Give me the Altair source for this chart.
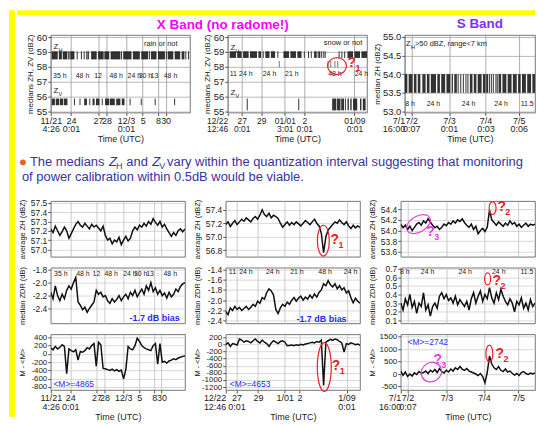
import altair as alt
import numpy as np
import pandas as pd

FONT = "Liberation Sans"
RED = "#e8202a"
MAG = "#e040e0"
BLUE = "#1a2cff"
TXT = "#35359b"
YEL = "#ffff00"

# ---------------- time axes (normalised position 0..100 along each column) ----------------
col1_ticks = [0, 14.5, 34, 40, 54, 66, 77, 82.5]
col1_top_labels = [["11/21", "4:26"], ["24", "0:01"], ["27"], ["28"], ["12/3", "0:01"], ["5"], ["8"], ["30"]]
col1_bot_labels = [["11/21", "4:26"], ["24", "0:01"], ["27"], ["28"], ["12/3"], ["5"], ["8"], ["30"]]
col2_top_ticks = [0, 10, 24, 41, 55, 91]
col2_ticks = [0, 8, 24, 44, 55, 90]
col2_top_labels = [["12/22", "12:46"], ["27", "0:01"], ["29"], ["01/01", "3:01"], ["2", "0:01"], ["01/09", "0:01"]]
col2_bot_labels = [["12/22", "12:46"], ["27", "0:01"], ["29"], ["1/01"], ["2"], ["1/09", "0:01"]]
col3_ticks = [0, 5, 34, 62, 87.5]
col3_top_labels = [["7/1", "16:00"], ["7/2", "0:07"], ["7/3", "0:01"], ["7/4", "0:03"], ["7/5", "0:06"]]
col3_bot_labels = [["7/1", "16:00"], ["7/2", "0:07"], ["7/3"], ["7/4"], ["7/5"]]

# ---------------- top row: medians Z_H / Z_V (bar-code like occurrences) ----------------
A_zh_band = (58.5, 59.05)
A_zv_band = (55.4, 55.85)
A_zh_blocks = [(0.7, 5), (5.8, 8), (8.6, 11.7), (14, 17), (25.5, 26.5), (29, 33), (34, 38), (38.5, 42),
               (43, 50), (52, 58), (59, 64), (65, 70), (72, 76), (77, 82), (84, 88), (89, 93), (94, 96)]
A_zh_ticks = [12.5, 13.2, 19, 22, 24, 27.2, 50.8, 71, 83, 97, 99]
A_zv_blocks = [(0.7, 3), (3.6, 6), (6.5, 9), (9.5, 12), (24, 26), (30, 31.5), (32.5, 35), (39, 42),
               (42.5, 46), (47, 50), (51, 53)]
A_zv_ticks = [17, 21, 28, 37, 57, 65, 75, 89]

B_zh_band = (58.6, 59.05)
B_zh_low_band = (57.95, 58.4)
B_zv_band = (55.05, 55.85)
B_zh_blocks = [(1.4, 6), (6.8, 10), (11, 15), (16, 21), (22, 24), (27, 30), (31, 34), (40, 44), (45, 49),
               (50, 53), (62, 63.5), (65, 66.5), (86, 90), (91, 95), (96, 100)]
B_zh_ticks = [25.5, 36, 55, 58, 60, 64, 67.5, 69, 70, 80, 82, 84]
B_zh_low_ticks = [37, 72, 74, 77, 79]
B_zv_blocks = [(75, 78), (78.5, 81), (81.5, 83.5), (86, 87), (88, 89), (90, 93), (95, 96), (97, 99)]
B_zv_ticks = [14, 51, 84.5]

C_band = (53.5, 54.0)
C_blocks = [(0, 2), (3, 6), (7, 9), (10, 12), (13.5, 16), (17, 19), (20, 24), (25, 27), (28, 31), (32, 35),
            (36, 37), (38, 40), (50, 52), (53, 55), (56, 59), (60, 62), (62.5, 64), (72, 74), (75, 78),
            (79, 82), (83, 86), (87, 89), (90, 93), (94, 97), (98, 100)]
C_ticks = [41, 43, 45, 47, 48.5, 65, 66.5, 68, 70, 71]

A_dur = [("35 h", 6.5), ("48 h", 22.8), ("12", 34), ("48 h", 47), ("24 h", 60), ("30 h", 68), ("13", 74.5), ("48 h", 86)]
B_dur = [("11", 4), ("24 h", 13), ("24 h", 30), ("21 h", 46), ("48 h", 77), ("24 h", 96)]
C_dur = [("8 h", 4), ("24 h", 22), ("24 h", 49), ("24 h", 74), ("11.5", 94)]

# ---------------- bottom rows: time series ----------------
r1c1 = [57.22, 57.18, 57.25, 57.20, 57.15, 57.19, 57.24, 57.20, 57.12, 57.17, 57.22, 57.27, 57.30, 57.26,
        57.24, 57.28, 57.25, 57.22, 57.27, 57.24, 57.26, 57.23, 57.20, 57.25, 57.15, 57.10, 57.12, 57.06,
        57.10, 57.08, 57.13, 57.05, 57.10, 57.14, 57.09, 57.12, 57.20, 57.24, 57.21, 57.26, 57.24, 57.28,
        57.25, 57.30, 57.27, 57.33, 57.29, 57.26, 57.30, 57.24, 57.27, 57.22, 57.18, 57.14, 57.18, 57.15,
        57.20, 57.22, 57.19, 57.22]
r2c1 = [-2.15, -2.25, -2.05, -2.20, -2.28, -2.18, -2.25, -2.12, -2.05, -2.10, -2.00, -1.92, -2.30, -2.35,
        -2.42, -2.38, -2.46, -2.40, -2.35, -2.30, -2.12, -2.18, -2.15, -2.22, -2.20, -2.28, -2.32, -2.25,
        -2.30, -2.26, -2.20, -2.28, -2.22, -2.18, -2.25, -2.15, -2.20, -2.12, -2.22, -2.16, -2.10, -2.18,
        -2.05, -2.12, -2.00, -2.14, -2.08, -2.18, -2.12, -2.20, -2.16, -2.24, -2.15, -2.22, -2.18, -2.10,
        -2.14, -2.06, -2.02, -2.00]
r3c1 = [150, 100, 180, 120, 160, 220, 180, -480, 120, 80, 50, 100, -150, 60, 40, 80, 150, 120, 200, 250,
        -300, 280, 220, -350, -360, -380, -400, -370, -410, -380, -420, -390, -600, -380, 180, 120, 100, 200,
        380, 300, 200, 150, 120, 100, 80, 200, 250, -250, 250, -200, -180, -220, -170, -150, -120, -140,
        -100, -80, -60, -50]
r1c2 = [57.18, 57.22, 57.15, 57.20, 57.24, 57.18, 57.22, 57.26, 57.23, 57.28, 57.25, 57.22, 57.27, 57.30,
        57.26, 57.32, 57.40, 57.33, 57.30, 57.35, 57.28, 57.32, 57.30, 57.27, 57.20, 57.14, 57.18, 57.22,
        57.17, 57.21, 57.18, 57.22, 57.19, 57.16, 57.20, 57.24, 57.21, 57.18, 57.22, 57.26, 57.20, 57.16,
        57.05, 56.76, 57.00, 57.10, 57.14, 57.18, 57.22, 57.20, 57.25, 57.21, 57.18, 57.22, 57.16, 57.12,
        57.17, 57.13, 57.16, 57.14]
r2c2 = [-2.22, -2.28, -2.15, -2.20, -2.12, -2.18, -2.14, -2.20, -2.16, -2.12, -2.18, -2.14, -2.08, -2.12,
        -2.02, -2.06, -1.95, -1.98, -1.85, -1.78, -1.82, -1.90, -2.18, -2.26, -2.15, -2.08, -2.12, -2.04,
        -2.08, -2.00, -1.95, -2.02, -1.96, -1.92, -2.00, -1.94, -1.98, -1.90, -1.96, -1.88, -1.94, -1.85,
        -1.80, -1.68, -1.72, -1.62, -1.70, -1.74, -1.68, -1.78, -1.72, -1.80, -1.76, -1.86, -1.82, -1.95,
        -2.05, -1.96, -2.02, -2.06]
r3c2 = [0, 40, -60, 20, 0, -20, 150, 120, 60, 100, 80, 40, 100, 150, 80, 40, 120, 60, 20, -60, 40, 100, 60,
        20, 80, 100, 60, -40, -30, -20, -40, -10, -30, 0, -20, 10, 20, 40, 60, 40, 80, 60, 120, -1150, 60,
        100, 140, 110, 150, 130, 80, 40, -220, 20, 0, 40, 20, -10, 10, -30]
r1c3 = [54.12, 54.05, 54.10, 54.02, 54.08, 54.00, 54.06, 54.12, 54.15, 54.10, 54.18, 54.14, 54.22, 54.16,
        54.10, 54.05, 54.08, 54.02, 54.06, 54.12, 54.09, 54.15, 54.12, 54.18, 54.14, 54.20, 54.17, 54.22,
        54.15, 54.10, 54.06, 54.12, 54.02, 54.08, 53.94, 54.00, 54.04, 53.98, 54.06, 54.38, 54.20, 54.15,
        54.10, 54.16, 54.12, 54.08, 54.14, 54.10, 54.18, 54.12, 54.15, 54.08, 54.12, 54.06, 54.10, 54.14,
        54.08, 54.12, 54.10, 54.12]
r2c3 = [0.30, 0.22, 0.35, 0.28, 0.40, 0.25, 0.32, 0.18, 0.30, 0.26, 0.42, 0.22, 0.28, 0.15, 0.26, 0.30,
        0.24, 0.38, 0.42, 0.35, 0.40, 0.33, 0.36, 0.30, 0.38, 0.28, 0.34, 0.30, 0.26, 0.32, 0.22, 0.35,
        0.42, 0.30, 0.38, 0.44, 0.32, 0.40, 0.35, 0.48, 0.36, 0.30, 0.42, 0.34, 0.46, 0.38, 0.32, 0.28,
        0.35, 0.30, 0.20, 0.32, 0.28, 0.36, 0.24, 0.30, 0.22, 0.34, 0.26, 0.30]
r3c3 = [120, -50, 80, -100, 0, -80, 50, -20, 100, 30, 60, 120, 20, 150, 80, 180, 60, 220, 100, 40, 150, 80,
        200, 120, 250, 180, 300, 200, 150, 220, 120, 80, 40, 0, -60, 20, -100, -350, 60, 720, 400, 250, 180,
        300, 150, 100, 200, 80, 120, 30, -40, 20, -60, 60, 100, 20, -20, 40, 0, 50]

dur1 = [("35 h", 7.5), ("48 h", 24), ("12", 34), ("48 h", 45), ("24 h", 59), ("30 h", 67), ("13", 74), ("48 h", 89)]
dur2 = [("11", 5), ("24 h", 15), ("24 h", 35), ("21 h", 53), ("48 h", 74), ("24 h", 93)]
dur3 = [("8 h", 3), ("24 h", 20), ("24 h", 48), ("24 h", 73), ("11.5", 94)]

title_x = "X Band (no radome!)"
title_s = "S Band"
text_l1 = ["The medians", "Z", "H", "and", "Z", "V",
           "vary within the quantization interval suggesting that monitoring"]
text_l2 = "of power calibration within 0.5dB would be viable."

MINUS_FIX = "replace(datum.label, '\u2212', '-')"


# ---------------- helpers ----------------
def lbl_expr(ticks, labels):
    s = ""
    for t, lab in zip(ticks, labels):
        arr = "[" + ",".join("'" + x + "'" for x in lab) + "]"
        s += f"datum.value == {t} ? {arr} : "
    return s + "''"


def make_x(ticks, labels, show, right_first=False, gridc="#b4b4b4", fs=9):
    kw = dict(values=ticks, grid=True, domain=False, gridColor=gridc, gridWidth=0.7)
    if show:
        kw.update(labelExpr=lbl_expr(ticks, labels), labelFontSize=fs, labelLineHeight=8.5, labelPadding=1,
                  tickSize=3, title="Time (UTC)", titleFontSize=9, titleFontWeight="normal", titlePadding=1,
                  labelFlush=False, labelOverlap=False, labelBound=False, labelBaseline="top")
        if right_first:
            kw["labelAlign"] = {"condition": {"test": "datum.value == 0", "value": "right"}, "value": "center"}
    else:
        kw.update(labels=False, ticks=False, title=None)
    return alt.X("t:Q", scale=alt.Scale(domain=[0, 100], nice=False, zero=False), axis=alt.Axis(**kw))


def make_y(dom, ticks, fmt, title, extent, fs=8.5, tfs=7.5, gridc="#c8c8c8"):
    return alt.Y("v:Q", scale=alt.Scale(domain=dom, nice=False, zero=False),
                 axis=alt.Axis(values=ticks, format=fmt, labelExpr=MINUS_FIX, title=title, grid=True,
                               domain=False, labelFontSize=fs, titleFontSize=tfs, titleFontWeight="normal",
                               titlePadding=1, tickSize=3, labelPadding=1, minExtent=extent, maxExtent=extent,
                               labelOverlap=False, labelFlush=False, gridColor=gridc, gridWidth=0.7))


def line_layer(X, Y, values):
    df = pd.DataFrame({"t": np.linspace(0, 100, len(values)), "v": values})
    return alt.Chart(df).mark_line(color="#111", strokeWidth=1.5, clip=True).encode(x=X, y=Y)


def text_layer(X, Y, rows, v, **mk):
    df = pd.DataFrame({"label": [r[0] for r in rows], "t": [r[1] for r in rows], "v": [v] * len(rows)})
    return alt.Chart(df).mark_text(font=FONT, **mk).encode(x=X, y=Y, text="label:N")


def sub_layers(X, Y, rows, color, fs, fs_sub, dx, dy, weight="normal"):
    df = pd.DataFrame({"t": [r[0] for r in rows], "v": [r[1] for r in rows],
                       "m": [r[2] for r in rows], "s": [r[3] for r in rows]})
    main = alt.Chart(df).mark_text(font=FONT, fontSize=fs, color=color, align="left", baseline="middle",
                                   fontWeight=weight).encode(x=X, y=Y, text="m:N")
    sub = alt.Chart(df).mark_text(font=FONT, fontSize=fs_sub, color=color, align="left", baseline="middle",
                                  fontWeight=weight, dx=dx, dy=dy).encode(x=X, y=Y, text="s:N")
    return [main, sub]


def ellipse_layer(X, Y, t, v, w, h, angle, color):
    if h >= w:
        rx, ry, size = w / h, 1, h * h
    else:
        rx, ry, size = 1, h / w, w * w
    path = f"M 0 {-ry:.3f} A {rx:.3f} {ry:.3f} 0 1 1 0 {ry:.3f} A {rx:.3f} {ry:.3f} 0 1 1 0 {-ry:.3f} Z"
    df = pd.DataFrame({"t": [t], "v": [v]})
    return alt.Chart(df).mark_point(shape=path, size=size, filled=False, color=color, strokeWidth=1.2,
                                    angle=angle, opacity=1).encode(x=X, y=Y)


def block_layer(X, Y, blocks, band, color="#1c1c1c"):
    df = pd.DataFrame({"t": [b[0] for b in blocks], "t2": [b[1] for b in blocks],
                       "v": [band[0]] * len(blocks), "v2": [band[1]] * len(blocks)})
    return alt.Chart(df).mark_rect(color=color, opacity=0.9).encode(x=X, x2=alt.X2("t2"), y=Y, y2=alt.Y2("v2"))


def tick_layer(X, Y, ticks, band, color="#333"):
    df = pd.DataFrame({"t": ticks, "v": [band[0]] * len(ticks), "v2": [band[1]] * len(ticks)})
    return alt.Chart(df).mark_rule(color=color, strokeWidth=1).encode(x=X, y=Y, y2=alt.Y2("v2"))


DUR = dict(fontSize=7, color="#222", baseline="middle", align="center")

# ---------------- top row ----------------
TH = 78
XA = make_x(col1_ticks, col1_top_labels, True, gridc="#8a8a8a")
YA = make_y([54.9, 60.15], [55, 56, 57, 58, 59, 60], "d", "medians ZH, ZV (dBZ)", 15, fs=9.5, tfs=8, gridc="#9a9a9a")
pA = alt.layer(
    block_layer(XA, YA, A_zh_blocks, A_zh_band), tick_layer(XA, YA, A_zh_ticks, A_zh_band),
    block_layer(XA, YA, A_zv_blocks, A_zv_band), tick_layer(XA, YA, A_zv_ticks, A_zv_band),
    text_layer(XA, YA, A_dur, 57.4, **DUR),
    text_layer(XA, YA, [("rain or not", 67)], 59.55, fontSize=7.5, color="#222", align="left", baseline="middle"),
    *sub_layers(XA, YA, [(2, 59.35, "Z", "H"), (2, 56.35, "Z", "V")], "#222", 8, 5.5, 5, 3),
).properties(width=140, height=TH)

XB = make_x(col2_top_ticks, col2_top_labels, True, right_first=True, gridc="#8a8a8a", fs=8.5)
YB = make_y([54.9, 60.15], [55, 56, 57, 58, 59, 60], "d", "medians ZH, ZV (dBZ)", 15, fs=9.5, tfs=8, gridc="#9a9a9a")
pB = alt.layer(
    block_layer(XB, YB, B_zh_blocks, B_zh_band), tick_layer(XB, YB, B_zh_ticks, B_zh_band),
    tick_layer(XB, YB, B_zh_low_ticks, B_zh_low_band, color="#777"),
    block_layer(XB, YB, B_zv_blocks, B_zv_band), tick_layer(XB, YB, B_zv_ticks, B_zv_band),
    text_layer(XB, YB, B_dur, 57.5, **DUR),
    text_layer(XB, YB, [("snow or not", 69)], 59.6, fontSize=7.5, color="#222", align="left", baseline="middle"),
    *sub_layers(XB, YB, [(2, 59.3, "Z", "H"), (2, 56.2, "Z", "V")], "#222", 8, 5.5, 5, 3),
    ellipse_layer(XB, YB, 78.5, 58.05, 19, 17, 0, RED),
    *sub_layers(XB, YB, [(86, 58.25, "?", "1")], RED, 14, 9, 8, 5, "bold"),
).properties(width=140, height=TH)

XC = make_x(col3_ticks, col3_top_labels, True, right_first=True, gridc="#8a8a8a")
YC = make_y([52.97, 55.05], [53.0, 53.5, 54.0, 54.5, 55.0], ".1f", "median ZH (dBZ)", 22, fs=9.5, tfs=8,
            gridc="#9a9a9a")
pC = alt.layer(
    block_layer(XC, YC, C_blocks, C_band), tick_layer(XC, YC, C_ticks, C_band),
    text_layer(XC, YC, C_dur, 53.2, **DUR),
    *sub_layers(XC, YC, [(1, 54.82, "Z", "H")], "#222", 7.5, 5.5, 5, 3),
    text_layer(XC, YC, [(">50 dBZ, range<7 km", 1)], 54.82, fontSize=7.5, color="#222", align="left",
               baseline="middle", dx=9),
).properties(width=131, height=TH)

TITLE = dict(font=FONT, fontSize=13.5, fontWeight="bold", anchor="middle", frame="group", offset=1)
pA = pA.properties(title=alt.TitleParams(title_x, color="#ff00ff", dx=103, **TITLE))
pC = pC.properties(title=alt.TitleParams(title_s, color="#7f2fff", dx=10, **TITLE))
top_row = alt.hconcat(pA, pB, pC, spacing=38, bounds="flush")


# ---------------- text block (x measured from the first plot column's left edge) ----------------
def txt(s, x, y, size=13, style="normal"):
    return alt.Chart(pd.DataFrame({"a": [0]})).mark_text(
        text=s, font=FONT, fontSize=size, fontStyle=style, color=TXT, align="left", baseline="alphabetic"
    ).encode(x=alt.value(x), y=alt.value(y))


bullet = alt.Chart(pd.DataFrame({"a": [0]})).mark_point(filled=True, color="#e8601c", size=34, opacity=1,
                                                         shape="circle").encode(x=alt.value(-28), y=alt.value(17))
text_block = alt.layer(
    bullet,
    txt(text_l1[0], -21, 21), txt(text_l1[1], 58.5, 21, style="italic"), txt(text_l1[2], 65.5, 24, size=9),
    txt(text_l1[3], 76, 21), txt(text_l1[4], 102, 21, style="italic"), txt(text_l1[5], 109, 24, size=9),
    txt(text_l1[6], 117, 21),
    txt(text_l2, -29, 36),
).properties(width=440, height=52, view=alt.ViewBackground(stroke="transparent"))

# ---------------- bottom grid ----------------
BW, BH, BE = 135, 56, 23
Xb1 = make_x(col1_ticks, col1_bot_labels, False)
Xb2 = make_x(col2_ticks, col2_bot_labels, False)
Xb3 = make_x(col3_ticks, col3_bot_labels, False)
Xl1 = make_x(col1_ticks, col1_bot_labels, True)
Xl2 = make_x(col2_ticks, col2_bot_labels, True, right_first=True)
Xl3 = make_x(col3_ticks, col3_bot_labels, True, right_first=True)

Y11 = make_y([56.92, 57.52], [57.0, 57.1, 57.2, 57.3, 57.4, 57.5], ".1f", "average ZH (dBZ)", BE)
Y12 = make_y([56.7, 57.53], [56.8, 57.0, 57.2, 57.4], ".1f", "average ZH (dBZ)", BE)
Y13 = make_y([53.51, 54.55], [53.6, 53.8, 54.0, 54.2, 54.4], ".1f", "average ZH (dBZ)", BE)
Y21 = make_y([-2.63, -1.77], [-2.4, -2.2, -2.0, -1.8], ".1f", "median ZDR (dB)", BE)
Y22 = make_y([-2.45, -1.37], [-2.4, -2.2, -2.0, -1.8, -1.6, -1.4], ".1f", "median ZDR (dB)", BE)
Y23 = make_y([0.065, 0.71], [0.1, 0.2, 0.3, 0.4, 0.5, 0.6, 0.7], ".1f", "median ZDR (dB)", BE)
Y31 = make_y([-873, 473], [-800, -600, -400, -200, 0, 200, 400], "d", "M - <M>", BE, fs=8)
Y32 = make_y([-1280, 280], [-1200, -1000, -800, -600, -400, -200, 0, 200], "d", "M - <M>", BE, fs=8)
Y33 = make_y([-640, 1590], [-500, 0, 500, 1000, 1500], "d", "M - <M>", BE, fs=8)

BIAS = dict(fontSize=9, color=BLUE, fontWeight="bold", align="right", baseline="middle")
MTXT = dict(fontSize=8.5, color=BLUE, align="left", baseline="middle")

p11 = alt.layer(line_layer(Xb1, Y11, r1c1)).properties(width=BW, height=BH)
p12 = alt.layer(
    line_layer(Xb2, Y12, r1c2),
    ellipse_layer(Xb2, Y12, 72.7, 56.94, 12, 31, 0, RED),
    *sub_layers(Xb2, Y12, [(78, 56.95, "?", "1")], RED, 14, 9, 8, 5, "bold"),
).properties(width=BW, height=BH)
p13 = alt.layer(
    line_layer(Xb3, Y13, r1c3),
    ellipse_layer(Xb3, Y13, 68.4, 54.42, 7, 13, 0, RED),
    ellipse_layer(Xb3, Y13, 13.2, 54.12, 26, 16, 330, MAG),
    *sub_layers(Xb3, Y13, [(72, 54.44, "?", "2")], RED, 14, 9, 8, 5, "bold"),
    *sub_layers(Xb3, Y13, [(19, 53.97, "?", "3")], MAG, 14, 9, 8, 5, "bold"),
).properties(width=BW, height=BH)

p21 = alt.layer(
    line_layer(Xb1, Y21, r2c1),
    text_layer(Xb1, Y21, dur1, -1.86, **DUR),
    text_layer(Xb1, Y21, [("-1.7 dB bias", 96)], -2.54, **BIAS),
).properties(width=BW, height=BH)
p22 = alt.layer(
    line_layer(Xb2, Y22, r2c2),
    text_layer(Xb2, Y22, dur2, -1.46, **DUR),
    text_layer(Xb2, Y22, [("-1.7 dB bias", 90)], -2.36, **BIAS),
).properties(width=BW, height=BH)
p23 = alt.layer(
    line_layer(Xb3, Y23, r2c3),
    text_layer(Xb3, Y23, dur3, 0.665, **DUR),
    ellipse_layer(Xb3, Y23, 64.7, 0.58, 6, 12, 0, RED),
    *sub_layers(Xb3, Y23, [(68.4, 0.56, "?", "2")], RED, 14, 9, 8, 5, "bold"),
).properties(width=BW, height=BH)

p31 = alt.layer(
    line_layer(Xl1, Y31, r3c1),
    text_layer(Xl1, Y31, [("<M>=4865", 2)], -730, **MTXT),
).properties(width=BW, height=BH)
p32 = alt.layer(
    line_layer(Xl2, Y32, r3c2),
    text_layer(Xl2, Y32, [("<M>=4653", 3)], -1120, **MTXT),
    ellipse_layer(Xl2, Y32, 73.4, -635, 14, 49, 0, RED),
    *sub_layers(Xl2, Y32, [(79, -600, "?", "1")], RED, 14, 9, 8, 5, "bold"),
).properties(width=BW, height=BH)
p33 = alt.layer(
    line_layer(Xl3, Y33, r3c3),
    text_layer(Xl3, Y33, [("<M>=2742", 5)], 1300, **MTXT),
    ellipse_layer(Xl3, Y33, 66, 818, 7, 17, 0, RED),
    ellipse_layer(Xl3, Y33, 22.8, 76, 21, 19, 330, MAG),
    *sub_layers(Xl3, Y33, [(70.6, 818, "?", "2")], RED, 14, 9, 8, 5, "bold"),
    *sub_layers(Xl3, Y33, [(24.3, 570, "?", "3")], MAG, 14, 9, 8, 5, "bold"),
).properties(width=BW, height=BH)

bottom = alt.concat(p11, p12, p13, p21, p22, p23, p31, p32, p33, columns=3, bounds="flush",
                    spacing={"row": 11, "column": 41})

body = alt.concat(top_row, text_block, bottom, columns=1, spacing=0)

# ---------------- yellow frame ----------------
top_strip = alt.Chart(pd.DataFrame({"a": [0]})).mark_rect(color=YEL).encode(
    x=alt.value(-34), x2=alt.value(487), y=alt.value(0), y2=alt.value(5)
).properties(width=487, height=5, view=alt.ViewBackground(stroke="transparent"))

left_strip = alt.Chart(pd.DataFrame({"a": [0]})).mark_rect(color=YEL).encode(
    x=alt.value(0), x2=alt.value(6), y=alt.value(0), y2=alt.value(409)
).properties(width=6, height=409, view=alt.ViewBackground(stroke="transparent"))

chart = alt.hconcat(
    left_strip,
    alt.vconcat(top_strip, body, spacing=0),
    spacing=0,
).properties(padding=0, background="white").configure(font=FONT).configure_view(
    stroke="#555", strokeWidth=0.8
).configure_axis(
    labelFont=FONT, titleFont=FONT, labelColor="#222", titleColor="#222", tickColor="#555"
).configure_title(font=FONT)

chart.save("out.html", embed_options={"renderer": "svg", "actions": False})
